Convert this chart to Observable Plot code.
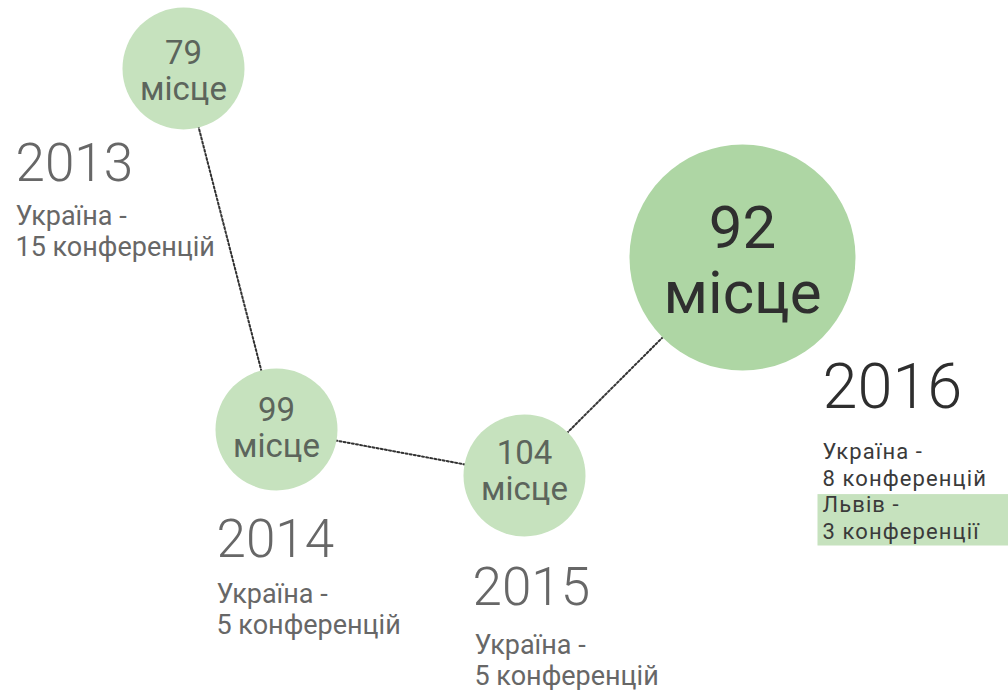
<!DOCTYPE html>
<html>
<head>
<meta charset="utf-8">
<script src="https://cdn.jsdelivr.net/npm/d3@7"></script>
<script src="https://cdn.jsdelivr.net/npm/@observablehq/plot@0.6"></script>
<style>
  html, body { margin: 0; padding: 0; background: #fff; }
  #chart svg { display: block; }
</style>
</head>
<body>
<div id="chart"></div>
<script>
// ---- data ----
const years = [2013, 2014, 2015, 2016];
const ranks = [79, 99, 104, 92];
const rankWord = "місце";
const ukraineConfs = ["15 конференцій", "5 конференцій", "5 конференцій", "8 конференцій"];
const ukraineLabel = "Україна -";
const lvivLabel = "Львів -";
const lvivConfs = "3 конференції";

const rows = years.map((year, i) => ({year, rank: ranks[i]}));

// ---- layout (offsets of labels from each circle, in px) ----
const layout = {
  2013: {rankDy: 31, yearDx: -168, yearDy: 112, infoDx: -168, infoDy: 187},
  2014: {rankDy: 27, yearDx: -60,  yearDy: 127, infoDx: -60,  infoDy: 204},
  2015: {rankDy: 24, yearDx: -52,  yearDy: 129, infoDx: -50,  infoDy: 209},
  2016: {rankDy: 55, yearDx: 80,   yearDy: 150, infoDx: 80,   infoDy: 281}
};

const font = "Roboto, 'Noto Sans', sans-serif";
const marks = [];

// dotted connectors
marks.push(Plot.line(rows, {x: "year", y: "rank", stroke: "#333", strokeWidth: 2, strokeDasharray: "2,2.2"}));
// circles
marks.push(Plot.dot(rows.filter(d => d.year !== 2016), {x: "year", y: "rank", r: 61, fill: "#c6e2be", stroke: "none"}));
marks.push(Plot.dot(rows.filter(d => d.year === 2016), {x: "year", y: "rank", r: 113, fill: "#aed6a4", stroke: "none"}));

for (const d of rows) {
  const L = layout[d.year];
  const big = d.year === 2016;
  const i = years.indexOf(d.year);
  marks.push(Plot.text([d], {
    x: "year", y: "rank", text: r => `${r.rank}\n${rankWord}`,
    lineAnchor: "bottom", lineHeight: big ? 1.07 : 1.08,
    dy: L.rankDy, fontSize: big ? 60 : 33, fill: big ? "#2f2f2f" : "#5c655c",
    fontFamily: font, fontWeight: 400
  }));
  marks.push(Plot.text([d], {
    x: "year", y: "rank", text: r => String(r.year),
    textAnchor: "start", lineAnchor: "bottom",
    dx: L.yearDx, dy: L.yearDy, fontSize: big ? 63 : 53,
    fill: big ? "#2e2e2e" : "#676767", fontFamily: font, fontWeight: 300
  }));
  const info = big
    ? `${ukraineLabel}\n${ukraineConfs[i]}\n${lvivLabel}\n${lvivConfs}`
    : `${ukraineLabel}\n${ukraineConfs[i]}`;
  marks.push(Plot.text([d], {
    x: "year", y: "rank", text: () => info,
    textAnchor: "start", lineAnchor: "bottom", lineHeight: big ? 1.2 : 1.12,
    dx: L.infoDx, dy: L.infoDy, fontSize: big ? 22 : 27,
    fill: big ? "#3a3a3a" : "#676767", fontFamily: font
  }));
}

const chart = Plot.plot({
  width: 1008,
  height: 690,
  margin: 0,
  style: {background: "#fff", overflow: "visible"},
  x: {type: "linear", domain: years, range: [183, 276, 524, 742], axis: null},
  y: {type: "linear", domain: [79, 92, 99, 104], range: [68, 257, 429, 475], axis: null},
  marks
});
document.getElementById("chart").appendChild(chart);

// highlight box behind the Львів lines, measured from the rendered text
const svgBox = chart.getBoundingClientRect();
const info2016 = Array.from(chart.querySelectorAll("text")).find(t => t.textContent.includes(lvivLabel));
if (info2016) {
  info2016.setAttribute("letter-spacing", "1.1");
  const spans = Array.from(info2016.querySelectorAll("tspan"));
  const lv = spans.filter(s => s.textContent === lvivLabel || s.textContent === lvivConfs);
  const boxes = (lv.length ? lv : [info2016]).map(s => s.getBoundingClientRect());
  const top = Math.min(...boxes.map(b => b.top)) - svgBox.top;
  const bottom = Math.max(...boxes.map(b => b.bottom)) - svgBox.top;
  const left = Math.min(...boxes.map(b => b.left)) - svgBox.left;
  const x = left - 5;
  const rect = document.createElementNS("http://www.w3.org/2000/svg", "rect");
  rect.setAttribute("x", x);
  rect.setAttribute("y", top + 2);
  rect.setAttribute("width", 1008 - x);
  rect.setAttribute("height", bottom - top);
  rect.setAttribute("fill", "#c6e2be");
  const g = info2016.closest("g[aria-label]") || info2016.parentNode;
  g.parentNode.insertBefore(rect, g);
}
</script>
</body>
</html>
